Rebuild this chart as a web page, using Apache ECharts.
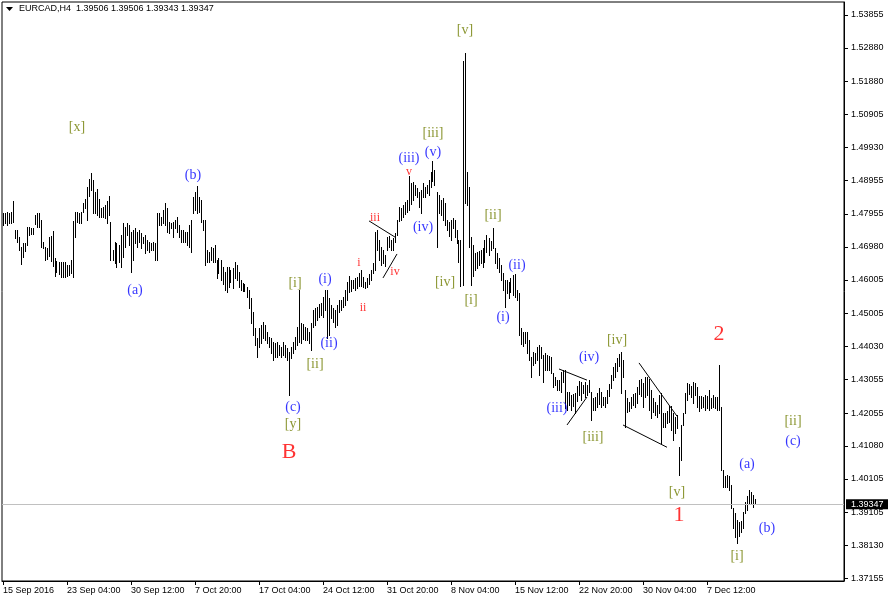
<!DOCTYPE html>
<html><head><meta charset="utf-8">
<script src="https://cdn.jsdelivr.net/npm/echarts@6/dist/echarts.min.js"></script>
<style>html,body{margin:0;padding:0;background:#fff}#c{width:888px;height:602px}</style>
</head><body><div id="c"></div>
<script>
const symbolName = 'EURCAD,H4';
const lastOHLC = [1.39506, 1.39506, 1.39343, 1.39347];

const highs = [
1.4798,1.4798,1.4801,1.4798,1.4801,1.4834,1.4748,1.4748,1.4727,1.4697,
1.4709,1.4709,1.4757,1.4757,1.4754,1.4754,1.4792,1.4798,1.4798,1.4778,
1.4712,1.4697,1.4694,1.4727,1.4730,1.4745,1.4665,1.4656,1.4653,1.4653,
1.4653,1.4653,1.4644,1.4644,1.4659,1.4775,1.4801,1.4801,1.4798,1.4801,
1.4828,1.4840,1.4876,1.4899,1.4917,1.4896,1.4861,1.4870,1.4840,1.4813,
1.4816,1.4822,1.4834,1.4849,1.4772,1.4689,1.4712,1.4709,1.4703,1.4733,
1.4769,1.4757,1.4769,1.4763,1.4742,1.4748,1.4754,1.4742,1.4748,1.4739,
1.4727,1.4733,1.4718,1.4712,1.4709,1.4712,1.4709,1.4798,1.4798,1.4786,
1.4807,1.4828,1.4813,1.4772,1.4769,1.4772,1.4778,1.4786,1.4763,1.4748,
1.4748,1.4742,1.4742,1.4763,1.4778,1.4846,1.4861,1.4879,1.4846,1.4837,
1.4778,1.4778,1.4689,1.4683,1.4697,1.4694,1.4703,1.4659,1.4665,1.4659,
1.4639,1.4624,1.4639,1.4639,1.4630,1.4636,1.4653,1.4644,1.4624,1.4600,
1.4591,1.4588,1.4579,1.4570,1.4547,1.4505,1.4458,1.4428,1.4458,1.4466,
1.4475,1.4466,1.4446,1.4431,1.4428,1.4416,1.4413,1.4416,1.4407,1.4401,
1.4416,1.4407,1.4398,1.4386,1.4401,1.4416,1.4431,1.4461,1.4570,1.4472,
1.4469,1.4461,1.4458,1.4446,1.4472,1.4511,1.4517,1.4520,1.4529,1.4532,
1.4550,1.4570,1.4570,1.4547,1.4526,1.4517,1.4511,1.4526,1.4541,1.4541,
1.4550,1.4570,1.4594,1.4612,1.4600,1.4600,1.4606,1.4609,1.4621,1.4630,
1.4609,1.4594,1.4606,1.4618,1.4630,1.4650,1.4742,1.4748,1.4718,1.4697,
1.4689,1.4674,1.4727,1.4730,1.4718,1.4724,1.4739,1.4778,1.4816,1.4813,
1.4822,1.4831,1.4837,1.4908,1.4887,1.4890,1.4881,1.4873,1.4861,1.4867,
1.4887,1.4876,1.4881,1.4896,1.4920,1.4953,1.4926,1.4861,1.4852,1.4837,
1.4843,1.4828,1.4778,1.4772,1.4778,1.4783,1.4778,1.4748,1.4718,1.4718,
1.5249,1.5273,1.4920,1.4876,1.4727,1.4703,1.4680,1.4683,1.4686,1.4689,
1.4694,1.4718,1.4733,1.4724,1.4715,1.4754,1.4694,1.4680,1.4665,1.4644,
1.4621,1.4600,1.4600,1.4594,1.4606,1.4615,1.4618,1.4570,1.4561,1.4458,
1.4446,1.4446,1.4446,1.4422,1.4372,1.4386,1.4383,1.4401,1.4407,1.4401,
1.4377,1.4383,1.4377,1.4374,1.4372,1.4324,1.4312,1.4303,1.4303,1.4327,
1.4333,1.4333,1.4268,1.4268,1.4259,1.4262,1.4265,1.4285,1.4300,1.4297,
1.4288,1.4297,1.4288,1.4303,1.4268,1.4250,1.4253,1.4265,1.4280,1.4268,
1.4253,1.4253,1.4274,1.4291,1.4318,1.4342,1.4354,1.4369,1.4380,1.4386,
1.4363,1.4274,1.4250,1.4238,1.4253,1.4262,1.4265,1.4283,1.4303,1.4306,
1.4294,1.4312,1.4312,1.4306,1.4274,1.4250,1.4238,1.4229,1.4259,1.4265,
1.4205,1.4205,1.4211,1.4226,1.4226,1.4205,1.4193,1.4199,1.4104,1.4170,
1.4205,1.4265,1.4294,1.4291,1.4285,1.4297,1.4294,1.4283,1.4256,1.4256,
1.4253,1.4259,1.4256,1.4274,1.4250,1.4259,1.4253,1.4253,1.4348,1.4223,
1.4037,1.4019,1.4022,1.4019,1.3992,1.3924,1.3909,1.3888,1.3882,1.3885,
1.3912,1.3942,1.3959,1.3977,1.3971,1.3962,1.39506
];
const lows = [
1.4763,1.4769,1.4763,1.4769,1.4769,1.4772,1.4724,1.4712,1.4689,1.4647,
1.4668,1.4686,1.4703,1.4733,1.4736,1.4736,1.4766,1.4757,1.4757,1.4697,
1.4694,1.4659,1.4662,1.4671,1.4656,1.4641,1.4612,1.4624,1.4618,1.4609,
1.4609,1.4609,1.4612,1.4615,1.4621,1.4609,1.4727,1.4772,1.4769,1.4769,
1.4801,1.4813,1.4778,1.4849,1.4867,1.4798,1.4798,1.4792,1.4786,1.4786,
1.4786,1.4783,1.4769,1.4792,1.4659,1.4659,1.4650,1.4639,1.4653,1.4639,
1.4668,1.4697,1.4733,1.4703,1.4624,1.4659,1.4709,1.4697,1.4712,1.4694,
1.4709,1.4680,1.4689,1.4683,1.4689,1.4689,1.4659,1.4659,1.4763,1.4763,
1.4769,1.4763,1.4742,1.4739,1.4754,1.4727,1.4754,1.4742,1.4727,1.4712,
1.4712,1.4712,1.4703,1.4697,1.4683,1.4798,1.4807,1.4798,1.4801,1.4772,
1.4748,1.4644,1.4653,1.4653,1.4659,1.4653,1.4653,1.4606,1.4621,1.4600,
1.4588,1.4570,1.4564,1.4579,1.4594,1.4576,1.4606,1.4600,1.4579,1.4570,
1.4567,1.4567,1.4550,1.4517,1.4472,1.4437,1.4407,1.4372,1.4401,1.4413,
1.4428,1.4422,1.4413,1.4401,1.4383,1.4363,1.4372,1.4372,1.4377,1.4372,
1.4377,1.4372,1.4363,1.4259,1.4369,1.4383,1.4395,1.4407,1.4416,1.4413,
1.4425,1.4422,1.4422,1.4413,1.4392,1.4461,1.4466,1.4481,1.4490,1.4496,
1.4490,1.4511,1.4428,1.4437,1.4487,1.4475,1.4461,1.4466,1.4505,1.4511,
1.4520,1.4526,1.4541,1.4564,1.4567,1.4576,1.4570,1.4576,1.4582,1.4582,
1.4579,1.4576,1.4579,1.4588,1.4600,1.4621,1.4630,1.4689,1.4659,1.4644,
1.4650,1.4641,1.4689,1.4697,1.4689,1.4689,1.4712,1.4733,1.4775,1.4778,
1.4786,1.4795,1.4801,1.4807,1.4825,1.4837,1.4852,1.4846,1.4816,1.4798,
1.4846,1.4846,1.4858,1.4852,1.4876,1.4893,1.4881,1.4697,1.4798,1.4792,
1.4778,1.4763,1.4748,1.4730,1.4718,1.4754,1.4727,1.4709,1.4653,1.4582,
1.4585,1.4828,1.4822,1.4697,1.4585,1.4612,1.4630,1.4636,1.4644,1.4650,
1.4639,1.4653,1.4683,1.4674,1.4689,1.4694,1.4650,1.4636,1.4624,1.4600,
1.4570,1.4520,1.4561,1.4547,1.4564,1.4556,1.4550,1.4541,1.4437,1.4410,
1.4404,1.4413,1.4383,1.4363,1.4312,1.4348,1.4354,1.4363,1.4318,1.4369,
1.4297,1.4333,1.4333,1.4333,1.4324,1.4282,1.4288,1.4274,1.4274,1.4268,
1.4297,1.4220,1.4214,1.4229,1.4214,1.4226,1.4205,1.4241,1.4259,1.4244,
1.4265,1.4253,1.4259,1.4268,1.4185,1.4214,1.4214,1.4223,1.4232,1.4223,
1.4229,1.4223,1.4235,1.4256,1.4280,1.4303,1.4312,1.4330,1.4345,1.4265,
1.4312,1.4164,1.4208,1.4211,1.4220,1.4229,1.4223,1.4235,1.4262,1.4256,
1.4223,1.4253,1.4259,1.4214,1.4191,1.4208,1.4199,1.4193,1.4205,1.4116,
1.4164,1.4164,1.4176,1.4179,1.4155,1.4125,1.4146,1.4161,1.4022,1.4066,
1.4170,1.4205,1.4244,1.4262,1.4253,1.4235,1.4259,1.4223,1.4211,1.4220,
1.4223,1.4214,1.4220,1.4214,1.4220,1.4223,1.4220,1.4214,1.4214,1.4037,
1.3986,1.3986,1.3986,1.3977,1.3924,1.3865,1.3838,1.3820,1.3841,1.3853,
1.3865,1.3909,1.3918,1.3939,1.3939,1.3927,1.39343
];

const slotCount = 421;
const xTickIdx = [0,32,64,96,128,160,192,224,256,288,320,352];
const xTickLabels = ['15 Sep 2016','23 Sep 04:00','30 Sep 12:00','7 Oct 20:00','17 Oct 04:00','24 Oct 12:00',
  '31 Oct 20:00','8 Nov 04:00','15 Nov 12:00','22 Nov 20:00','30 Nov 04:00','7 Dec 12:00'];
const yTickValues = [1.53855,1.52880,1.51880,1.50905,1.49930,1.48955,1.47955,1.46980,1.46005,
  1.45005,1.44030,1.43055,1.42055,1.41080,1.40105,1.39105,1.38130,1.37155];

// [barIndex, price, text, style]
const waveLabels = [
  [37,1.5053,'[x]','g'],[66,1.4570,'(a)','b'],[95,1.4911,'(b)','b'],
  [146,1.4591,'[i]','g'],[161,1.4603,'(i)','b'],[156,1.4351,'[ii]','g'],[162.5,1.4413,'(ii)','b'],
  [145,1.4223,'(c)','b'],[145,1.4173,'[y]','g'],[143,1.4090,'B','R'],
  [178,1.4650,'i','r'],[180,1.4517,'ii','r'],[185.5,1.4784,'iii','r'],[196,1.4624,'iv','r'],[203,1.4920,'v','r'],
  [203,1.4962,'(iii)','b'],[215,1.4979,'(v)','b'],[215,1.5036,'[iii]','g'],[209.5,1.4757,'(iv)','b'],
  [231,1.5341,'[v]','g'],[221,1.4594,'[iv]','g'],[233.5,1.4541,'[i]','g'],[245,1.4793,'[ii]','g'],
  [256.5,1.4644,'(ii)','b'],[250,1.4490,'(i)','b'],[292.5,1.4372,'(iv)','b'],[277,1.4220,'(iii)','b'],
  [295,1.4134,'[iii]','g'],[307,1.4422,'[iv]','g'],[357.5,1.4440,'2','R'],[336.5,1.3971,'[v]','g'],
  [338,1.3903,'1','R'],[372,1.4054,'(a)','b'],[382,1.3865,'(b)','b'],[367,1.3781,'[i]','g'],
  [394.5,1.4182,'[ii]','g'],[394.5,1.4122,'(c)','b']
];
const labelStyles = {
  g: {color:'#6f7d00', fontSize:14},
  b: {color:'#0000ff', fontSize:14},
  r: {color:'#ff0000', fontSize:12},
  R: {color:'#ff0000', fontSize:22}
};
const trendLines = [
  [[183,1.4775],[196,1.4727]],
  [[190,1.4606],[197,1.4677]],
  [[278,1.4336],[292,1.4303]],
  [[282,1.4170],[292,1.4253]],
  [[318,1.4354],[337,1.4196]],
  [[310,1.4170],[332,1.4104]]
];

const categories = Array.from({length: slotCount}, (_, i) => String(i));
const tickMap = {};
xTickIdx.forEach((ix, k) => { tickMap[ix] = xTickLabels[k]; });
const barData = highs.map((h, i) => [i, h, lows[i]]);

const chart = echarts.init(document.getElementById('c'), null, {renderer: 'canvas'});
const FONT = 'Liberation Sans';

const series = [{
  type: 'custom',
  silent: true,
  data: barData,
  encode: {x: 0, y: [1, 2]},
  renderItem: function (params, api) {
    const i = api.value(0);
    const p1 = api.coord([i, api.value(1)]);
    const p2 = api.coord([i, api.value(2)]);
    const x = Math.floor(p1[0]) + 0.5;
    return {type: 'line', shape: {x1: x, y1: Math.round(p1[1]), x2: x, y2: Math.round(p2[1]) + 1},
      style: {stroke: '#000', lineWidth: 1}};
  },
  markLine: {
    silent: true, symbol: 'none', animation: false, precision: 5,
    lineStyle: {color: '#c0c0c0', type: 'solid', width: 1},
    label: {position: 'end', formatter: lastOHLC[3].toFixed(5), color: '#fff', backgroundColor: '#000',
      padding: [1, 5, 0, 5], fontSize: 9, fontFamily: FONT, distance: 2},
    data: [{yAxis: lastOHLC[3]}]
  },
  z: 3
}, {
  type: 'scatter',
  silent: true,
  symbolSize: 1,
  itemStyle: {color: 'rgba(0,0,0,0)'},
  data: waveLabels.map(w => ({
    value: [w[0], w[1]],
    label: {show: true, position: 'inside', formatter: w[2], color: labelStyles[w[3]].color,
      fontSize: labelStyles[w[3]].fontSize, fontFamily: 'Liberation Serif'}
  })),
  z: 5
}];
trendLines.forEach(t => series.push({
  type: 'line', silent: true, symbol: 'none', data: t, animation: false,
  lineStyle: {color: '#000', width: 1}, z: 4
}));

chart.setOption({
  animation: false,
  backgroundColor: '#fff',
  grid: {left: 2, right: 44, top: 2, bottom: 21, show: true, borderColor: '#000', borderWidth: 1, backgroundColor: 'transparent'},
  xAxis: {
    type: 'category', data: categories, boundaryGap: true,
    axisLine: {show: true, lineStyle: {color: '#000'}},
    axisTick: {show: true, alignWithLabel: true, length: 4, lineStyle: {color: '#000'},
      interval: (i) => tickMap[i] !== undefined},
    axisLabel: {show: true, interval: (i) => tickMap[i] !== undefined, formatter: (v, i) => tickMap[i] || '',
      align: 'left', color: '#000', fontSize: 9, fontFamily: FONT, margin: 5},
    splitLine: {show: false}
  },
  yAxis: {
    type: 'value', position: 'right', min: 1.37075, max: 1.5424, scale: true,
    axisLine: {show: true, lineStyle: {color: '#000'}},
    axisTick: {show: true, length: 4, lineStyle: {color: '#000'}, customValues: yTickValues},
    axisLabel: {show: true, customValues: yTickValues, formatter: v => v.toFixed(5), color: '#000',
      fontSize: 9, fontFamily: FONT, margin: 7},
    splitLine: {show: false}
  },
  graphic: [
    {type: 'polygon', shape: {points: [[6, 7], [13, 7], [9.5, 11]]}, style: {fill: '#000'}},
    {type: 'text', left: 19, top: 4, style: {text: symbolName + '  ' + lastOHLC.map(v => v.toFixed(5)).join(' '),
      fill: '#000', font: '9px ' + FONT}}
  ],
  series: series
});
</script>
</body></html>
